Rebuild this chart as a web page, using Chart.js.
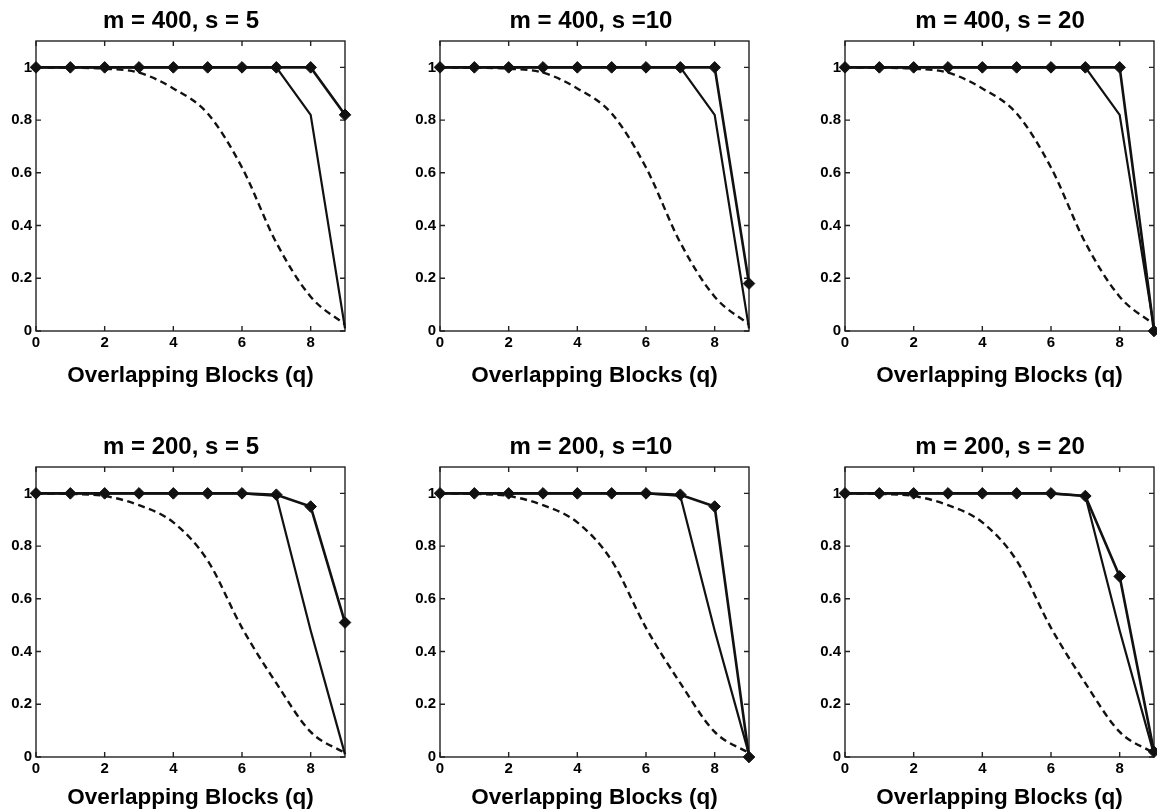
<!DOCTYPE html>
<html><head><meta charset="utf-8">
<script src="https://cdn.jsdelivr.net/npm/chart.js@4.4.1/dist/chart.umd.min.js"></script>
<style>
html,body{margin:0;padding:0;background:#fff;width:1157px;height:811px;overflow:hidden;position:relative}
canvas{position:absolute;display:block}
</style></head><body>
<canvas id="c0"></canvas><canvas id="c1"></canvas><canvas id="c2"></canvas>
<canvas id="c3"></canvas><canvas id="c4"></canvas><canvas id="c5"></canvas>
<script>
// ---- data ----
const q = [0, 1, 2, 3, 4, 5, 6, 7, 8, 9];
const xTickValues = [0, 2, 4, 6, 8];
const xTickLabels = ['0', '2', '4', '6', '8'];
const yTickValues = [0, 0.2, 0.4, 0.6, 0.8, 1];
const yTickLabels = ['0', '0.2', '0.4', '0.6', '0.8', '1'];
const titles = ['m = 400, s = 5', 'm = 400, s =10', 'm = 400, s = 20',
                'm = 200, s = 5', 'm = 200, s =10', 'm = 200, s = 20'];
const xLabel = 'Overlapping Blocks (q)';

const dashed400 = [1, 0.999, 0.995, 0.98, 0.92, 0.825, 0.62, 0.335, 0.13, 0.025];
const thin400 = [1, 1, 1, 1, 1, 1, 1, 1, 0.82, 0.01];
const diamond400s5 = [1, 1, 1, 1, 1, 1, 1, 1, 1, 0.82];
const diamond400s10 = [1, 1, 1, 1, 1, 1, 1, 1, 1, 0.18];
const diamond400s20 = [1, 1, 1, 1, 1, 1, 1, 1, 1, 0];

const dashed200 = [1, 0.998, 0.99, 0.955, 0.89, 0.745, 0.49, 0.28, 0.095, 0.015];
const thin200 = [1, 1, 1, 1, 1, 1, 1, 0.99, 0.48, 0.01];
const diamond200s5 = [1, 1, 1, 1, 1, 1, 1, 0.995, 0.95, 0.51];
const diamond200s10 = [1, 1, 1, 1, 1, 1, 1, 0.995, 0.95, 0];
const diamond200s20 = [1, 1, 1, 1, 1, 1, 1, 0.99, 0.685, 0.02];

const panels = [
  [dashed400, thin400, diamond400s5],
  [dashed400, thin400, diamond400s10],
  [dashed400, thin400, diamond400s20],
  [dashed200, thin200, diamond200s5],
  [dashed200, thin200, diamond200s10],
  [dashed200, thin200, diamond200s20]
];

// ---- layout ----
const plotLefts = [36, 440, 845];
const rightSpaces = [17, 29, 37];   // extra box on the right: centres the title like the reference
const plotW = 309, plotH = 290, yAxisW = 36, titleH = 41;
const xAxisHs = [58, 54];
const rowTops = [0, 426];

Chart.defaults.color = '#000';
Chart.defaults.font.family = '"Liberation Sans", Arial, Helvetica, sans-serif';
Chart.defaults.font.weight = 'bold';

const framePlugin = {
  id: 'frame',
  beforeDatasetsDraw(chart) {
    const {ctx, chartArea: a, scales} = chart;
    ctx.save();
    ctx.strokeStyle = '#222';
    ctx.lineWidth = 1.4;
    ctx.strokeRect(a.left, a.top, a.right - a.left, a.bottom - a.top);
    const L = 5;
    ctx.beginPath();
    xTickValues.forEach(v => {
      const px = scales.x.getPixelForValue(v);
      ctx.moveTo(px, a.bottom); ctx.lineTo(px, a.bottom - L);
      ctx.moveTo(px, a.top); ctx.lineTo(px, a.top + L);
    });
    yTickValues.forEach(v => {
      const py = scales.y.getPixelForValue(v);
      ctx.moveTo(a.left, py); ctx.lineTo(a.left + L, py);
      ctx.moveTo(a.right, py); ctx.lineTo(a.right - L, py);
    });
    ctx.stroke();
    ctx.restore();
  }
};

const toPts = arr => q.map((x, i) => ({x: x, y: arr[i]}));

panels.forEach((series, k) => {
  const col = k % 3, row = Math.floor(k / 3);
  const cv = document.getElementById('c' + k);
  const left = plotLefts[col] - yAxisW;
  const rightW = rightSpaces[col];
  const xAxisH = xAxisHs[row];
  const w = yAxisW + plotW + rightW;
  const h = titleH + plotH + xAxisH;
  cv.width = w; cv.height = h;
  cv.style.left = left + 'px';
  cv.style.top = rowTops[row] + 'px';
  cv.style.width = w + 'px';
  cv.style.height = h + 'px';

  new Chart(cv, {
    type: 'line',
    data: {
      datasets: [
        {data: toPts(series[0]), borderColor: '#111', borderWidth: 2.4, borderDash: [7, 4.5],
         pointRadius: 0, clip: false, cubicInterpolationMode: 'monotone'},
        {data: toPts(series[1]), borderColor: '#111', borderWidth: 2.2,
         pointRadius: 0, clip: false, tension: 0},
        {data: toPts(series[2]), borderColor: '#111', borderWidth: 2.6,
         pointStyle: 'rectRot', pointRadius: 5.8, pointBackgroundColor: '#111',
         pointBorderColor: '#111', pointBorderWidth: 1, clip: false, tension: 0}
      ]
    },
    options: {
      responsive: false,
      animation: false,
      devicePixelRatio: 1,
      layout: {padding: 0},
      events: [],
      plugins: {
        legend: {display: false},
        tooltip: {enabled: false},
        title: {
          display: true, text: titles[k], color: '#000',
          font: {size: 24, weight: 'bold', lineHeight: 1.2},
          padding: {top: 7, bottom: 5.2}
        }
      },
      scales: {
        x: {
          type: 'linear', min: 0, max: 9,
          afterBuildTicks: s => { s.ticks = xTickValues.map(v => ({value: v})); },
          afterFit: s => { s.height = xAxisH; },
          ticks: {callback: (v, i) => xTickLabels[i], font: {size: 15, weight: 'bold'},
                  padding: 3, maxRotation: 0, autoSkip: false},
          grid: {display: false, drawTicks: false},
          border: {display: false},
          title: {display: true, text: xLabel, color: '#000',
                  font: {size: 22.5, weight: 'bold', lineHeight: 1.2},
                  padding: {top: 4, bottom: 0}}
        },
        y: {
          type: 'linear', min: 0, max: 1.1,
          afterBuildTicks: s => { s.ticks = yTickValues.map(v => ({value: v})); },
          afterFit: s => { s.width = yAxisW; },
          ticks: {callback: (v, i) => yTickLabels[i], font: {size: 15, weight: 'bold'},
                  padding: 4, autoSkip: false},
          grid: {display: false, drawTicks: false},
          border: {display: false}
        },
        yRight: {
          type: 'linear', position: 'right', min: 0, max: 1.1,
          afterFit: s => { s.width = rightW; },
          ticks: {display: false},
          grid: {display: false, drawTicks: false},
          border: {display: false}
        }
      }
    },
    plugins: [framePlugin]
  });
});
</script>
</body></html>
